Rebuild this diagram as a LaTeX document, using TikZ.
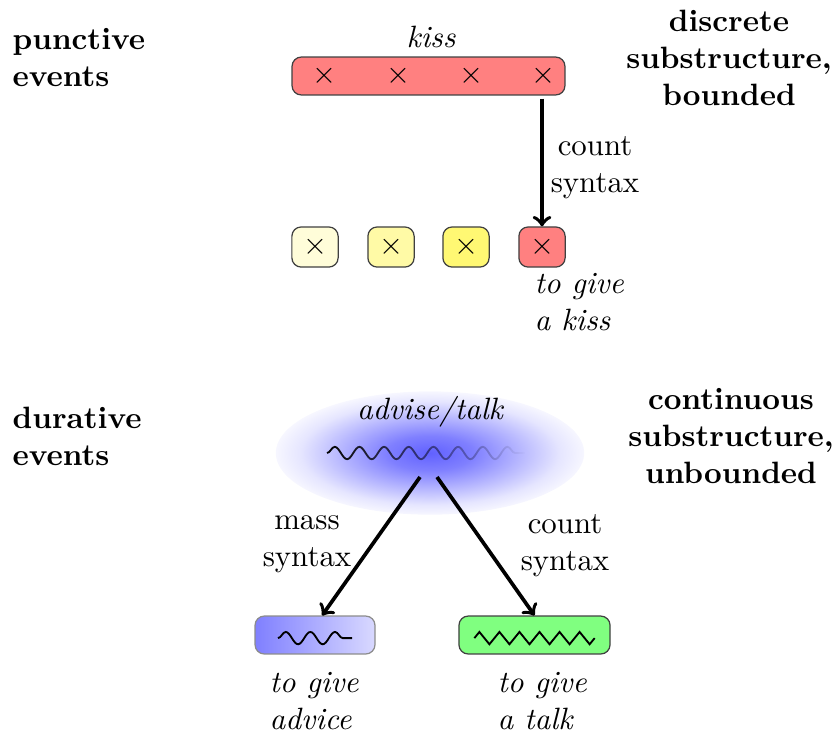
\documentclass[tikz,border=0pt]{standalone}
\usepackage{tikz}
\usetikzlibrary{positioning,decorations.pathmorphing,fadings}

\pgfdeclareradialshading{glow}{\pgfpointorigin}{color(0bp)=(blue!62); color(7bp)=(blue!50); color(14bp)=(blue!30); color(21bp)=(blue!10); color(27bp)=(white); color(50bp)=(white)}

\begin{document}
\begin{tikzpicture}[x=0.3243pt, y=-0.3243pt,
  heading/.style = {font = \bfseries, inner sep = 0pt},
  gloss/.style = {font = \itshape, inner sep = 0pt, align = left},
  note/.style = {inner sep = 0pt, align = center},
  box/.style = {draw = black!75, rounded corners = 3pt, minimum height = 12.3pt, inner sep = 0pt},
  cell/.style = {box, minimum width = 15pt, minimum height = 13pt},
  cross/.style = {inner sep = 0pt},
  arrow/.style = {->, very thick},
  wave/.style = {semithick, decorate, decoration = {snake, amplitude = 2pt, segment length = 8pt}}]
\useasboundingbox (0,0) rectangle (835,732);

% punctive events
\node[heading, anchor = west, align = left] (punct) at (12,58) {punctive\\events};
\node[heading, align = center] (discrete) at (729,58) {discrete\\substructure,\\bounded};
\node[box, fill = red!50, minimum width = 88.5pt] (kiss) at (428.5,76) {};
\node[gloss] (kisslbl) at (431,37) {kiss};
\foreach \x [count = \i] in {324,398,471,543}
  \node[cross] (k\i) at (\x,76) {$\times$};

\node[cell, fill = yellow!15] (b1) at (315,247) {$\times$};
\node[cell, fill = yellow!35] (b2) at (391,247) {$\times$};
\node[cell, fill = yellow!55] (b3) at (466,247) {$\times$};
\node[cell, fill = red!50]    (b4) at (542,247) {$\times$};

\draw[arrow] ([yshift = -1pt]kiss.south -| b4.north) -- (b4.north);
\node[note] (count1) at (595,168) {count\\syntax};
\node[gloss, anchor = west] (givekiss) at (534,302) {to give\\a kiss};

% durative events
\node[heading, anchor = west, align = left] (dur) at (12,436) {durative\\events};
\node[heading, align = center] (contin) at (731,436) {continuous\\substructure,\\unbounded};
\shade[shading = glow] (430,453) ellipse [x radius = 50pt, y radius = 20pt];
\node[gloss] (advise) at (430,412) {advise/talk};
\coordinate (wl) at (327,453);
\coordinate (wr) at (525,453);
\draw[wave, path fading = east] (wl) -- (wr);

\node[box, draw = black!45, left color = blue!50, right color = blue!15, minimum width = 38.9pt] (advice) at (315,635) {};
\node[box, fill = green!50, minimum width = 49pt] (talk) at (534.5,635) {};
\draw[wave] ([xshift = -12pt, yshift = -1pt]advice.center) -- ([xshift = 12pt, yshift = -1pt]advice.center);
\draw[semithick, decorate, decoration = {zigzag, amplitude = 2pt, segment length = 6.5pt}]
  ([xshift = -19.5pt, yshift = -1pt]talk.center) -- ([xshift = 19.5pt, yshift = -1pt]talk.center);

\coordinate (s1) at (420,477);
\coordinate (s2) at (437,477);
\draw[arrow] (s1) -- ([xshift = 2.3pt]advice.north);
\draw[arrow] (s2) -- (talk.north);
\node[note] (mass) at (307,544) {mass\\syntax};
\node[note] (count2) at (565,546) {count\\syntax};
\node[gloss, anchor = west] (giveadv) at (269,701) {to give\\advice};
\node[gloss, anchor = west] (givetalk) at (497,701) {to give\\a talk};
\end{tikzpicture}
\end{document}
